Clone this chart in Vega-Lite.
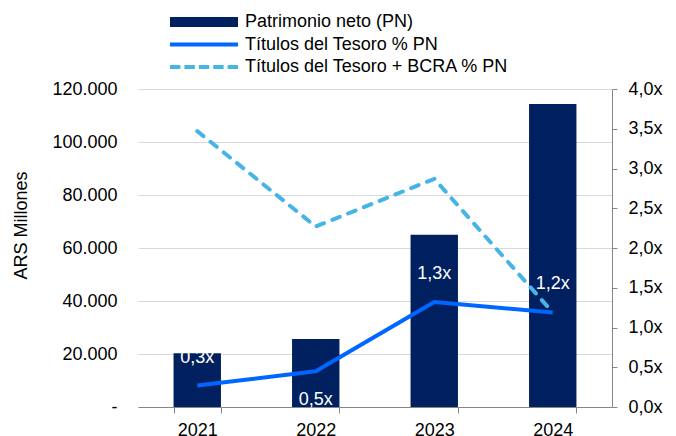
{
  "$schema": "https://vega.github.io/schema/vega-lite/v6.json",
  "width": 474,
  "height": 318,
  "autosize": {"type": "none"},
  "padding": {"left": 138, "top": 89, "right": 64, "bottom": 29},
  "background": "white",
  "data": {"values": [
    {"year": "2021", "pn": 20300, "tesoro": 0.27, "tesoro_bcra": 3.47},
    {"year": "2022", "pn": 25700, "tesoro": 0.45, "tesoro_bcra": 2.27},
    {"year": "2023", "pn": 65000, "tesoro": 1.32, "tesoro_bcra": 2.87},
    {"year": "2024", "pn": 114300, "tesoro": 1.19, "tesoro_bcra": 1.19}
  ]},
  "encoding": {
    "x": {
      "field": "year", "type": "ordinal",
      "scale": {"paddingInner": 0.6, "paddingOuter": 0.3},
      "axis": {"title": null, "labelAngle": 0, "labelFontSize": 18, "labelColor": "black", "domainColor": "#868686", "tickColor": "#868686", "tickSize": 6, "tickBand": "extent", "labelPadding": 8, "grid": false}
    }
  },
  "layer": [
    {
      "mark": {"type": "bar"},
      "encoding": {
        "y": {
          "field": "pn", "type": "quantitative",
          "scale": {"domain": [0, 120000], "nice": false},
          "axis": {"title": "ARS Millones", "titleFontSize": 18, "titleFontWeight": "normal", "titleColor": "black", "titlePadding": 21, "titleY": 136,
            "values": [0, 20000, 40000, 60000, 80000, 100000, 120000], "format": ",.0f", "labelExpr": "datum.value == 0 ? '-' : datum.label",
            "domain": false, "ticks": false, "tickSize": 0, "labelPadding": 21, "labelFontSize": 18, "labelColor": "black",
            "grid": true, "gridColor": "#D9D9D9", "gridWidth": 1}
        },
        "color": {
          "datum": "Patrimonio neto (PN)", "type": "nominal",
          "scale": {"domain": ["Patrimonio neto (PN)", "Títulos del Tesoro % PN", "Títulos del Tesoro + BCRA % PN"], "range": ["#002060", "#0066FF", "#47B4E6"]},
          "legend": {
            "orient": "none", "legendX": 32, "legendY": -77, "title": null, "direction": "vertical",
            "clipHeight": 20, "rowPadding": 2.5, "labelOffset": 7, "symbolSize": 4624, "symbolStrokeWidth": 0,
            "labelFontSize": 18, "labelColor": "black", "labelLimit": 400, "padding": 0,
            "encode": {"symbols": {"update": {
              "shape": [
                {"test": "datum.value === 'Patrimonio neto (PN)'", "value": "M-1,-0.147H1V0.147H-1Z"},
                {"test": "datum.value === 'Títulos del Tesoro % PN'", "value": "M-1,-0.062H1V0.062H-1Z"},
                {"value": "M-1,-0.062H-0.694V0.062H-1Z M-0.576,-0.062H-0.27V0.062H-0.576Z M-0.152,-0.062H0.154V0.062H-0.152Z M0.272,-0.062H0.578V0.062H0.272Z M0.696,-0.062H1V0.062H0.696Z"}
              ],
              "fill": [
                {"test": "datum.value === 'Patrimonio neto (PN)'", "value": "#002060"},
                {"test": "datum.value === 'Títulos del Tesoro % PN'", "value": "#0066FF"},
                {"value": "#47B4E6"}
              ],
              "stroke": {"value": "transparent"},
              "opacity": {"value": 1}
            }}}
          }
        }
      }
    },
    {
      "layer": [
        {
          "mark": {"type": "line", "strokeWidth": 4, "strokeJoin": "round"},
          "encoding": {
            "y": {"field": "tesoro", "type": "quantitative", "scale": {"domain": [0, 4], "nice": false}},
            "color": {"datum": "Títulos del Tesoro % PN", "type": "nominal"}
          }
        },
        {
          "mark": {"type": "line", "strokeWidth": 4, "strokeDash": [8, 9], "strokeCap": "round"},
          "encoding": {
            "y": {"field": "tesoro_bcra", "type": "quantitative"},
            "color": {"datum": "Títulos del Tesoro + BCRA % PN", "type": "nominal"}
          }
        },
        {
          "transform": [{"filter": "datum.year != '2022'"}],
          "mark": {"type": "text", "color": "white", "fontSize": 18, "dy": -28, "baseline": "middle", "align": "center"},
          "encoding": {
            "y": {"field": "tesoro", "type": "quantitative"},
            "text": {"field": "tesoro", "type": "quantitative", "format": "$.1f"}
          }
        },
        {
          "transform": [{"filter": "datum.year == '2022'"}],
          "mark": {"type": "text", "color": "white", "fontSize": 18, "dy": 29, "baseline": "middle", "align": "center"},
          "encoding": {
            "y": {"field": "tesoro", "type": "quantitative"},
            "text": {"field": "tesoro", "type": "quantitative", "format": "$.1f"}
          }
        }
      ],
      "encoding": {
        "y": {"type": "quantitative",
          "axis": {"orient": "right", "title": null, "values": [0, 0.5, 1, 1.5, 2, 2.5, 3, 3.5, 4], "format": "$.1f",
            "domainColor": "#868686", "tickColor": "#868686", "tickSize": 5, "labelPadding": 11, "labelFontSize": 18, "labelColor": "black", "grid": false}}
      }
    }
  ],
  "resolve": {"scale": {"y": "independent"}},
  "config": {
    "font": "Liberation Sans",
    "view": {"stroke": null},
    "axis": {"labelFont": "Liberation Sans", "titleFont": "Liberation Sans"},
    "legend": {"labelFont": "Liberation Sans"},
    "text": {"font": "Liberation Sans"},
    "locale": {"number": {"decimal": ",", "thousands": ".", "grouping": [3], "currency": ["", "x"]}}
  }
}
